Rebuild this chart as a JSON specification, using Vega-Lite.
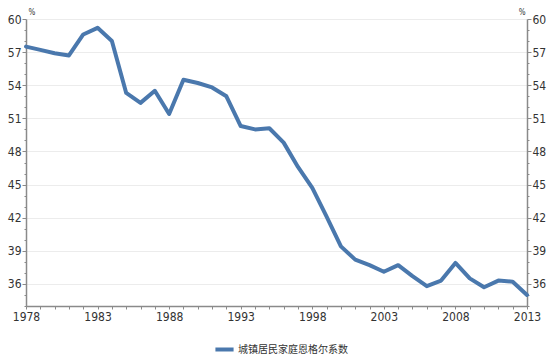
{
  "$schema": "https://vega.github.io/schema/vega-lite/v6.json",
  "width": 501,
  "height": 287,
  "autosize": {"type": "none"},
  "padding": {"left": 26, "top": 19, "right": 23, "bottom": 53},
  "background": "white",
  "config": {"view": {"stroke": null}, "font": "'DejaVu Sans Condensed', 'Liberation Sans Narrow', Roboto, sans-serif"},
  "data": {
    "values": [
      {"year": 1978, "engel": 57.5, "series": "城镇居民家庭恩格尔系数"},
      {"year": 1979, "engel": 57.2, "series": "城镇居民家庭恩格尔系数"},
      {"year": 1980, "engel": 56.9, "series": "城镇居民家庭恩格尔系数"},
      {"year": 1981, "engel": 56.7, "series": "城镇居民家庭恩格尔系数"},
      {"year": 1982, "engel": 58.6, "series": "城镇居民家庭恩格尔系数"},
      {"year": 1983, "engel": 59.2, "series": "城镇居民家庭恩格尔系数"},
      {"year": 1984, "engel": 58.0, "series": "城镇居民家庭恩格尔系数"},
      {"year": 1985, "engel": 53.3, "series": "城镇居民家庭恩格尔系数"},
      {"year": 1986, "engel": 52.4, "series": "城镇居民家庭恩格尔系数"},
      {"year": 1987, "engel": 53.5, "series": "城镇居民家庭恩格尔系数"},
      {"year": 1988, "engel": 51.4, "series": "城镇居民家庭恩格尔系数"},
      {"year": 1989, "engel": 54.5, "series": "城镇居民家庭恩格尔系数"},
      {"year": 1990, "engel": 54.2, "series": "城镇居民家庭恩格尔系数"},
      {"year": 1991, "engel": 53.8, "series": "城镇居民家庭恩格尔系数"},
      {"year": 1992, "engel": 53.0, "series": "城镇居民家庭恩格尔系数"},
      {"year": 1993, "engel": 50.3, "series": "城镇居民家庭恩格尔系数"},
      {"year": 1994, "engel": 50.0, "series": "城镇居民家庭恩格尔系数"},
      {"year": 1995, "engel": 50.1, "series": "城镇居民家庭恩格尔系数"},
      {"year": 1996, "engel": 48.8, "series": "城镇居民家庭恩格尔系数"},
      {"year": 1997, "engel": 46.6, "series": "城镇居民家庭恩格尔系数"},
      {"year": 1998, "engel": 44.7, "series": "城镇居民家庭恩格尔系数"},
      {"year": 1999, "engel": 42.1, "series": "城镇居民家庭恩格尔系数"},
      {"year": 2000, "engel": 39.4, "series": "城镇居民家庭恩格尔系数"},
      {"year": 2001, "engel": 38.2, "series": "城镇居民家庭恩格尔系数"},
      {"year": 2002, "engel": 37.7, "series": "城镇居民家庭恩格尔系数"},
      {"year": 2003, "engel": 37.1, "series": "城镇居民家庭恩格尔系数"},
      {"year": 2004, "engel": 37.7, "series": "城镇居民家庭恩格尔系数"},
      {"year": 2005, "engel": 36.7, "series": "城镇居民家庭恩格尔系数"},
      {"year": 2006, "engel": 35.8, "series": "城镇居民家庭恩格尔系数"},
      {"year": 2007, "engel": 36.3, "series": "城镇居民家庭恩格尔系数"},
      {"year": 2008, "engel": 37.9, "series": "城镇居民家庭恩格尔系数"},
      {"year": 2009, "engel": 36.5, "series": "城镇居民家庭恩格尔系数"},
      {"year": 2010, "engel": 35.7, "series": "城镇居民家庭恩格尔系数"},
      {"year": 2011, "engel": 36.3, "series": "城镇居民家庭恩格尔系数"},
      {"year": 2012, "engel": 36.2, "series": "城镇居民家庭恩格尔系数"},
      {"year": 2013, "engel": 35.0, "series": "城镇居民家庭恩格尔系数"}
    ]
  },
  "encoding": {
    "x": {
      "field": "year",
      "type": "quantitative",
      "scale": {"domain": [1978, 2013], "nice": false, "zero": false},
      "axis": {
        "title": null,
        "grid": false,
        "values": [1978,1979,1980,1981,1982,1983,1984,1985,1986,1987,1988,1989,1990,1991,1992,1993,1994,1995,1996,1997,1998,1999,2000,2001,2002,2003,2004,2005,2006,2007,2008,2009,2010,2011,2012,2013],
        "labelExpr": "(datum.value - 1978) % 5 == 0 ? format(datum.value, 'd') : ''",
        "labelFontSize": 12,
        "labelColor": "#333333",
        "labelPadding": 2,
        "labelFlush": false,
        "labelOverlap": false,
        "domainColor": "#8a8a8a",
        "domainWidth": 1.5,
        "tickColor": "#8a8a8a",
        "tickSize": 3
      }
    }
  },
  "layer": [
    {
      "mark": {"type": "line", "strokeWidth": 4, "strokeJoin": "round", "strokeCap": "round"},
      "encoding": {
        "y": {
          "field": "engel",
          "type": "quantitative",
          "scale": {"domain": [34, 60], "nice": false, "zero": false},
          "axis": {
            "orient": "left",
            "values": [34,35,36,37,38,39,40,41,42,43,44,45,46,47,48,49,50,51,52,53,54,55,56,57,58,59,60],
            "labelExpr": "datum.value >= 36 && (datum.value - 36) % 3 == 0 ? format(datum.value, 'd') : ''",
            "labelFontSize": 12,
            "labelColor": "#333333",
            "labelPadding": 1,
            "labelOverlap": false,
            "domainColor": "#8a8a8a",
            "domainWidth": 1.5,
            "tickColor": "#8a8a8a",
            "tickSize": {"condition": {"test": "datum.value % 3 == 0", "value": 4}, "value": 2},
            "grid": true,
            "gridColor": {"condition": {"test": "datum.value >= 36 && datum.value % 3 == 0", "value": "#ececec"}, "value": "transparent"},
            "title": "%",
            "titleAngle": 0,
            "titleX": 2,
            "titleY": -3,
            "titleAlign": "left",
            "titleBaseline": "bottom",
            "titleFontSize": 8,
            "titleFontWeight": "normal",
            "titleColor": "#333333"
          }
        },
        "color": {
          "field": "series",
          "type": "nominal",
          "scale": {"range": ["#4a78ad"]},
          "legend": {
            "title": null,
            "orient": "none",
            "legendX": 187,
            "legendY": 319,
            "symbolType": "stroke",
            "symbolStrokeWidth": 4,
            "symbolSize": 330,
            "labelFont": "Noto Sans CJK SC",
            "labelFontSize": 10,
            "labelColor": "#333333",
            "labelOffset": 2
          }
        }
      }
    },
    {
      "mark": {"type": "line", "opacity": 0},
      "encoding": {
        "y": {
          "field": "engel",
          "type": "quantitative",
          "scale": {"domain": [34, 60], "nice": false, "zero": false},
          "axis": {
            "orient": "right",
            "values": [34,35,36,37,38,39,40,41,42,43,44,45,46,47,48,49,50,51,52,53,54,55,56,57,58,59,60],
            "labelExpr": "datum.value >= 36 && (datum.value - 36) % 3 == 0 ? format(datum.value, 'd') : ''",
            "labelFontSize": 12,
            "labelColor": "#333333",
            "labelPadding": 1,
            "labelOverlap": false,
            "domainColor": "#8a8a8a",
            "domainWidth": 1.5,
            "tickColor": "#8a8a8a",
            "tickSize": {"condition": {"test": "datum.value % 3 == 0", "value": 4}, "value": 2},
            "grid": false,
            "title": "%",
            "titleAngle": 0,
            "titleX": -2,
            "titleY": -3,
            "titleAlign": "right",
            "titleBaseline": "bottom",
            "titleFontSize": 8,
            "titleFontWeight": "normal",
            "titleColor": "#333333"
          }
        }
      }
    }
  ],
  "resolve": {"axis": {"y": "independent"}}
}
